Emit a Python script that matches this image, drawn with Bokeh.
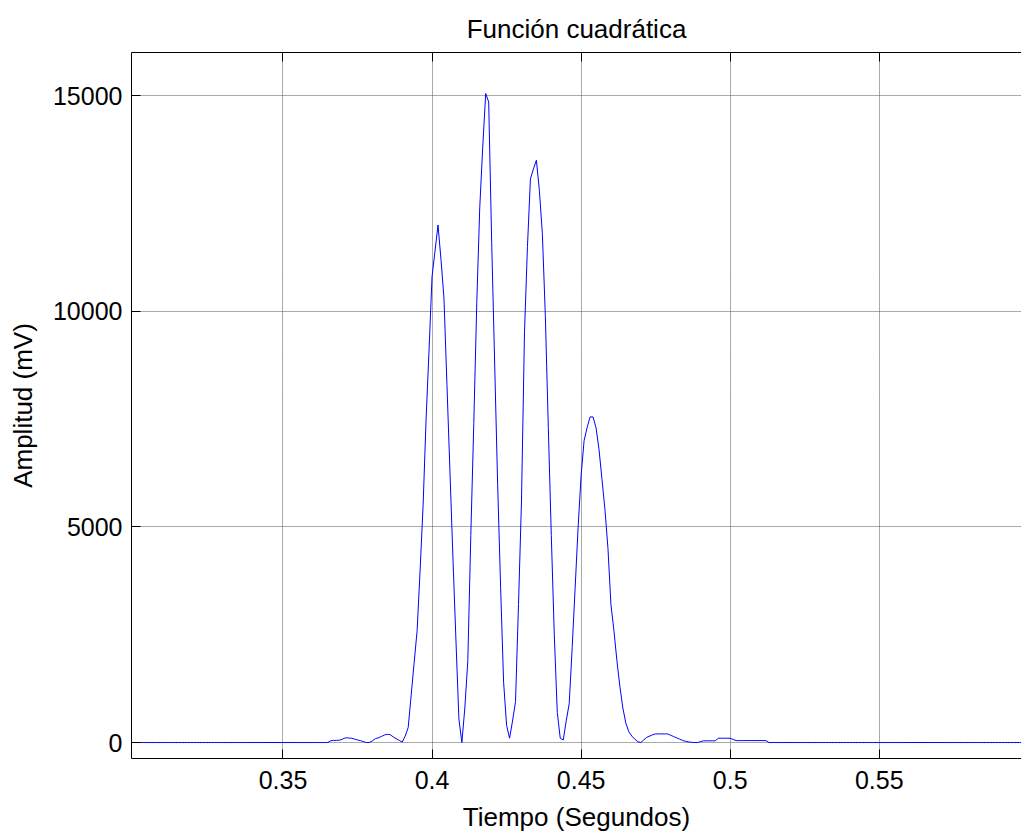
import numpy as np
from bokeh.plotting import figure
from bokeh.models import LinearAxis, FixedTicker, Range1d, ColumnDataSource
from bokeh.embed import file_html
from bokeh.resources import INLINE

# ---- data ----
t_start = 0.300          # s
t_step = 0.001           # s
quiet_before = [0.0] * 65   # 0.300 .. 0.364 s
pulse_mv = [             # 0.365 .. 0.513 s
    0, 40, 50, 50, 55, 80, 110, 105, 100, 80,
    60, 45, 20, 0, 0, 40, 90, 110, 140, 175,
    190, 180, 130, 90, 50, 10, 150, 350, 1100, 1850,
    2600, 4000, 5500, 7500, 9100, 10800, 11400, 12000, 11200, 10300,
    8300, 6300, 4300, 2400, 550, 0, 800, 1900, 4800, 7400,
    10200, 12400, 13800, 15050, 14850, 11600, 8800, 6000, 3600, 1400,
    400, 100, 500, 950, 3200, 5600, 9500, 11500, 13070, 13300,
    13500, 12800, 11800, 9900, 7300, 4800, 2500, 700, 100, 60,
    500, 900, 2200, 3600, 5000, 6200, 7000, 7300, 7550, 7550,
    7300, 6800, 6100, 5400, 4500, 3200, 2600, 1900, 1300, 800,
    450, 250, 150, 80, 20, 0, 60, 120, 150, 180,
    200, 200, 200, 200, 200, 170, 140, 110, 80, 50,
    30, 15, 5, 0, 0, 20, 40, 40, 40, 40,
    40, 100, 100, 100, 100, 100, 70, 45, 45, 45,
    45, 45, 45, 45, 45, 45, 45, 45, 0,
]
quiet_after = [0.0] * 85    # 0.514 .. 0.598 s

x_ticks = [0.35, 0.4, 0.45, 0.5, 0.55]
x_tick_labels = ["0.35", "0.4", "0.45", "0.5", "0.55"]
y_ticks = [0, 5000, 10000, 15000]
y_tick_labels = ["0", "5000", "10000", "15000"]

title_text = "Función cuadrática"
x_label = "Tiempo (Segundos)"
y_label = "Amplitud (mV)"

amplitude = np.array(quiet_before + pulse_mv + quiet_after, dtype=float)
time = t_start + t_step * np.arange(len(amplitude))
src = ColumnDataSource(dict(t=time, v=amplitude))

FONT = "Liberation Sans"

p = figure(
    frame_width=890, frame_height=706,
    x_range=Range1d(0.2992, 0.5977), y_range=Range1d(-370, 16000),
    output_backend="svg", toolbar_location=None,
    min_border_left=131, min_border_right=0,
    min_border_top=52, min_border_bottom=73,
)
p.outline_line_color = None
p.background_fill_color = "white"
p.border_fill_color = "white"

p.line("t", "v", source=src, line_color="#0000ff", line_width=1)

bottom_axis = p.below[0]
left_axis = p.left[0]
top_axis = LinearAxis()
p.add_layout(top_axis, "above")

for ax in [bottom_axis, left_axis, top_axis]:
    ax.axis_line_color = "black"
    ax.axis_line_width = 1
    ax.major_tick_in = 9
    ax.major_tick_out = 0
    ax.major_tick_line_color = "black"
    ax.minor_tick_line_color = None
    ax.major_label_text_font = FONT
    ax.major_label_text_font_size = "25px"
    ax.major_label_text_color = "black"
    ax.axis_label_text_font = FONT
    ax.axis_label_text_font_size = "26px"
    ax.axis_label_text_font_style = "normal"
    ax.axis_label_text_color = "black"

for ax in [bottom_axis, top_axis]:
    ax.ticker = FixedTicker(ticks=x_ticks)
    ax.major_label_overrides = dict(zip(x_ticks, x_tick_labels))
left_axis.ticker = FixedTicker(ticks=y_ticks)
left_axis.major_label_overrides = dict(zip(y_ticks, y_tick_labels))

top_axis.major_label_text_font_size = "0px"
top_axis.major_label_text_alpha = 0
top_axis.major_label_standoff = 0

bottom_axis.major_label_standoff = 12
bottom_axis.axis_label = x_label
bottom_axis.axis_label_standoff = 10
left_axis.major_label_standoff = 9
left_axis.axis_label = y_label
left_axis.axis_label_standoff = 12

p.xgrid.ticker = FixedTicker(ticks=x_ticks)
p.ygrid.ticker = FixedTicker(ticks=y_ticks)
for g in [p.xgrid[0], p.ygrid[0]]:
    g.grid_line_color = "#555555"
    g.grid_line_dash = "1 1"
    g.grid_line_width = 1

p.title.text = title_text
p.title.align = "center"
p.title.text_font = FONT
p.title.text_font_size = "26px"
p.title.text_font_style = "normal"
p.title.text_color = "black"
p.title.standoff = 17

open("out.html", "w").write(file_html(p, INLINE))
